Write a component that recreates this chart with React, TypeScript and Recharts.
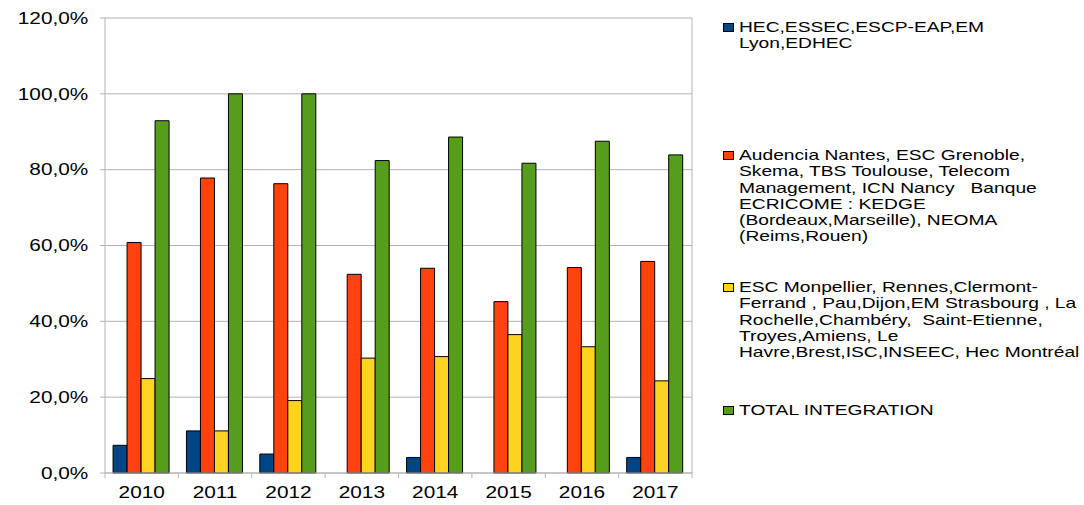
import React from 'react';
import { BarChart, Bar, XAxis, YAxis, CartesianGrid } from 'recharts';

const years = ['2010', '2011', '2012', '2013', '2014', '2015', '2016', '2017'];
const hecGroup = [0.073, 0.111, 0.05, null, 0.041, null, null, 0.041];
const audenciaGroup = [0.608, 0.778, 0.763, 0.524, 0.54, 0.452, 0.542, 0.558];
const escGroup = [0.249, 0.111, 0.191, 0.303, 0.307, 0.365, 0.333, 0.243];
const totalIntegration = [0.929, 1.0, 1.0, 0.824, 0.886, 0.817, 0.875, 0.839];
const yTicks = [0, 0.2, 0.4, 0.6, 0.8, 1.0, 1.2];

const seriesKeys = ['hec', 'audencia', 'esc', 'total'];
const seriesColors = ['#004586', '#ff420e', '#ffd320', '#579d1c'];
const legendLines = [
  ['HEC,ESSEC,ESCP-EAP,EM', 'Lyon,EDHEC'],
  [
    'Audencia Nantes, ESC Grenoble,',
    'Skema, TBS Toulouse, Telecom',
    'Management, ICN Nancy   Banque',
    'ECRICOME : KEDGE',
    '(Bordeaux,Marseille), NEOMA',
    '(Reims,Rouen)',
  ],
  [
    'ESC Monpellier, Rennes,Clermont-',
    'Ferrand , Pau,Dijon,EM Strasbourg , La',
    'Rochelle,Chambéry,  Saint-Etienne,',
    'Troyes,Amiens, Le',
    'Havre,Brest,ISC,INSEEC, Hec Montréal',
  ],
  ['TOTAL INTEGRATION'],
];

const data = years.map((y, i) => ({
  year: y,
  hec: hecGroup[i],
  audencia: audenciaGroup[i],
  esc: escGroup[i],
  total: totalIntegration[i],
}));

const FONT = '"Liberation Sans", Arial, sans-serif';
const GRID = '#b3b3b3';
const STRETCH = 1.3;
const legendTops = [19, 147, 279, 402];

const fmtPct = (v: number) => (v * 100).toFixed(1).replace('.', ',') + '%';

const XTick = (props: any) => {
  const { x, y, payload, index, visibleTicksCount, width } = props;
  const half = width && visibleTicksCount ? width / visibleTicksCount / 2 : 0;
  const axisY = y - 14;
  return (
    <g>
      <line x1={x - half} x2={x - half} y1={axisY} y2={axisY + 5} stroke={GRID} />
      {index === visibleTicksCount - 1 && (
        <line x1={x + half} x2={x + half} y1={axisY} y2={axisY + 5} stroke={GRID} />
      )}
      <g transform={`translate(${x},${y}) scale(${STRETCH},1)`}>
        <text x={0} y={0} dy="0.71em" textAnchor="middle" fill="#000" fontSize={16} fontFamily={FONT}>
          {payload.value}
        </text>
      </g>
    </g>
  );
};

const YTick = (props: any) => {
  const { x, y, payload } = props;
  return (
    <g transform={`translate(${x - 2.7},${y}) scale(${STRETCH},1)`}>
      <text x={0} y={0} dy="0.355em" textAnchor="end" fill="#000" fontSize={16} fontFamily={FONT}>
        {fmtPct(payload.value)}
      </text>
    </g>
  );
};

export default function App() {
  return (
    <div style={{ position: 'absolute', left: 0, top: 0, width: 1084, height: 505, background: '#fff', overflow: 'hidden' }}>
      <BarChart
        width={1084}
        height={505}
        data={data}
        margin={{ top: 18, right: 392, bottom: 5, left: 0 }}
        barCategoryGap="11%"
        barGap={0}
      >
        <CartesianGrid
          stroke={GRID}
          horizontal={true}
          vertical={true}
          verticalCoordinatesGenerator={({ offset }: any) => [offset.left + offset.width]}
        />
        <XAxis
          dataKey="year"
          height={27}
          axisLine={{ stroke: GRID }}
          tickLine={false}
          tickSize={5}
          tickMargin={9}
          tick={<XTick />}
          interval={0}
        />
        <YAxis
          width={105}
          domain={[0, 1.2]}
          ticks={yTicks}
          axisLine={{ stroke: GRID }}
          tickLine={{ stroke: GRID }}
          tickSize={5}
          tickMargin={9}
          tick={<YTick />}
          interval={0}
        />
        {seriesKeys.map((k, i) => (
          <Bar
            key={k}
            dataKey={k}
            fill={seriesColors[i]}
            stroke="#000"
            strokeWidth={1}
            isAnimationActive={false}
          />
        ))}
      </BarChart>
      <div style={{ position: 'absolute', left: 723, top: 0, width: 361, fontFamily: FONT }}>
        {legendLines.map((lines, i) => (
          <div key={i} style={{ position: 'absolute', left: 0, top: legendTops[i] }}>
            <div
              style={{
                position: 'absolute',
                left: 0,
                top: 4,
                width: 9,
                height: 7,
                background: seriesColors[i],
                border: '1px solid #000',
              }}
            />
            <div
              style={{
                position: 'absolute',
                left: 16,
                top: 0,
                fontSize: 15,
                lineHeight: '16.3px',
                whiteSpace: 'pre',
                color: '#000',
                transform: 'scaleX(1.28)',
                transformOrigin: '0 0',
              }}
            >
              {lines.join('\n')}
            </div>
          </div>
        ))}
      </div>
    </div>
  );
}
